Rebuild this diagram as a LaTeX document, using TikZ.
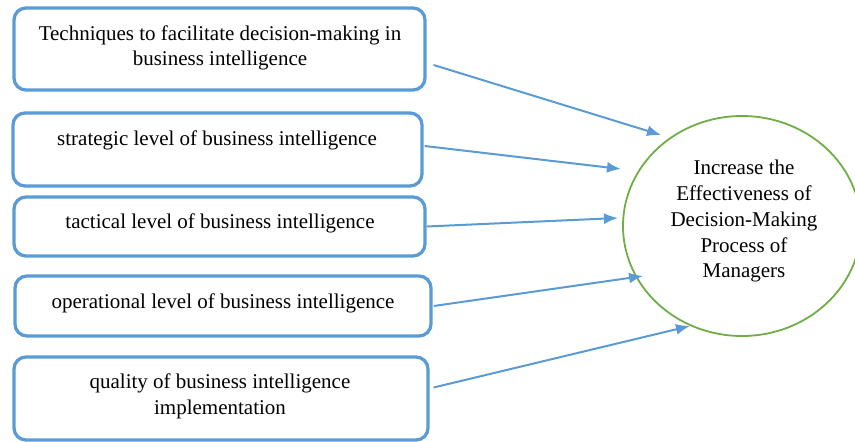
\documentclass[tikz,border=0pt]{standalone}
\usepackage{fontspec}
\setmainfont{Liberation Serif}
\usetikzlibrary{arrows.meta,shapes.geometric}
\definecolor{boxblue}{RGB}{91,155,213}
\definecolor{ringgreen}{RGB}{112,173,71}
\begin{document}
\begin{tikzpicture}[x=1pt,y=-1pt,
  factorbox/.style={draw=boxblue,line width=3.3pt,rounded corners=12pt,inner sep=0pt},
  label/.style={font=\fontsize{21}{26}\selectfont,inner sep=0pt,align=center,anchor=base},
  goal/.style={draw=ringgreen,line width=1.8pt,ellipse,inner sep=0pt},
  link/.style={draw=boxblue,line width=2pt,-{Latex[length=14pt,width=11pt]}}]
\useasboundingbox (0,0) rectangle (855,442);

% factor boxes
\node[factorbox,minimum width=411pt,minimum height=82pt] (b1) at (219.5,49) {};
\node[factorbox,minimum width=409pt,minimum height=73pt] (b2) at (217.5,149.5) {};
\node[factorbox,minimum width=411pt,minimum height=59pt] (b3) at (219.5,226.5) {};
\node[factorbox,minimum width=416pt,minimum height=60pt] (b4) at (223,306) {};
\node[factorbox,minimum width=414pt,minimum height=83pt] (b5) at (221,398.5) {};

% box texts
\node[label] at (220,40) {Techniques to facilitate decision-making in};
\node[label] at (220,65) {business intelligence};
\node[label] at (217,145) {strategic level of business intelligence};
\node[label] at (220,228) {tactical level of business intelligence};
\node[label] at (223,308) {operational level of business intelligence};
\node[label] at (220,388) {quality of business intelligence};
\node[label] at (220,414) {implementation};

% outcome
\node[goal,minimum width=238pt,minimum height=220pt] (g) at (742,226) {};
\node[label] at (744,174) {Increase the};
\node[label] at (744,200) {Effectiveness of};
\node[label] at (744,226) {Decision-Making};
\node[label] at (744,252) {Process of};
\node[label] at (744,277) {Managers};

% arrow tips just outside the ellipse
\coordinate (t1) at (661,135);
\coordinate (t2) at (621,169);
\coordinate (t3) at (618,218);
\coordinate (t4) at (643,276);
\coordinate (t5) at (690,326);

\draw[link] ([xshift=7pt,yshift=-16pt]b1.east) -- (t1);
\draw[link] ([xshift=1pt,yshift=3.5pt]b2.east) -- (t2);
\draw[link] (b3.east) -- (t3);
\draw[link] ([xshift=1pt]b4.east) -- (t4);
\draw[link] ([xshift=4pt,yshift=11pt]b5.east) -- (t5);
\end{tikzpicture}
\end{document}
